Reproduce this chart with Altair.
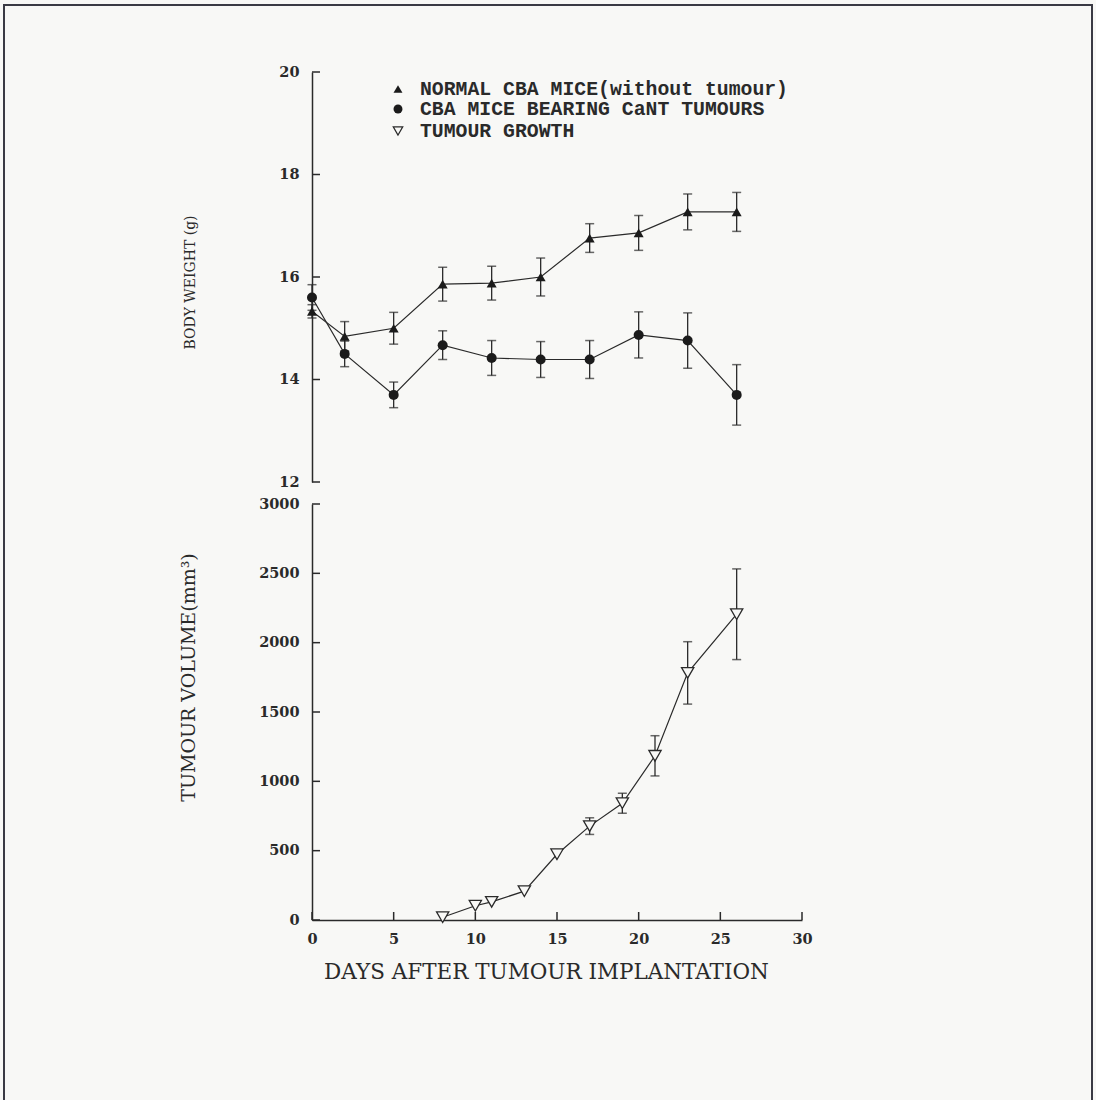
import altair as alt
import pandas as pd

# ---------------- data ----------------
series_labels = ["NORMAL CBA MICE(without tumour)", "CBA MICE BEARING CaNT TUMOURS", "TUMOUR GROWTH"]

weight_days = [0, 2, 5, 8, 11, 14, 17, 20, 23, 26]
normal_weight = [15.33, 14.84, 15.00, 15.86, 15.88, 16.00, 16.76, 16.86, 17.27, 17.27]
normal_err = [0.13, 0.29, 0.31, 0.33, 0.33, 0.37, 0.28, 0.34, 0.35, 0.38]
bearing_weight = [15.60, 14.50, 13.70, 14.67, 14.42, 14.39, 14.39, 14.87, 14.76, 13.70]
bearing_err = [0.25, 0.25, 0.25, 0.28, 0.34, 0.35, 0.37, 0.45, 0.54, 0.59]

tumour_days = [8, 10, 11, 13, 15, 17, 19, 21, 23, 26]
tumour_volume = [20, 103, 131, 208, 474, 677, 842, 1184, 1782, 2205]
tumour_err = [0, 0, 0, 0, 0, 60, 72, 145, 225, 327]

weight_ticks = [12, 14, 16, 18, 20]
volume_ticks = [0, 500, 1000, 1500, 2000, 2500, 3000]
day_ticks = [0, 5, 10, 15, 20, 25, 30]

# ---------------- styling ----------------
INK = "#2a2a2a"
BG = "#f8f8f6"
SERIF = "DejaVu Serif"
MONO = "Liberation Mono"
W = 490
H_TOP = 410
H_BOT = 416

weight_df = pd.DataFrame({
    "series": [series_labels[0]] * len(weight_days) + [series_labels[1]] * len(weight_days),
    "day": weight_days + weight_days,
    "value": normal_weight + bearing_weight,
    "err": normal_err + bearing_err,
})
tumour_df = pd.DataFrame({"day": tumour_days, "value": tumour_volume, "err": tumour_err})

x_scale = alt.Scale(domain=[0, 30], nice=False, zero=False)
y_top_scale = alt.Scale(domain=[12, 20], nice=False, zero=False)
y_bot_scale = alt.Scale(domain=[0, 3000], nice=False)

axis_common = dict(
    labelFont=SERIF, labelFontWeight="bold", labelFontSize=14.5, labelColor=INK,
    domain=True, domainColor=INK, domainWidth=1.5, ticks=False, grid=False,
    titleFont=SERIF, titleFontWeight="normal", titleColor=INK, labelFlush=False,
    format="d",
)

top_y_axis = alt.Axis(
    values=weight_ticks, title="BODY WEIGHT (g)", titleFontSize=14,
    titleX=-122, titleY=210, titleAngle=-90, titleAlign="center", titleBaseline="middle",
    labelPadding=13, **axis_common)
bot_y_axis = alt.Axis(
    values=volume_ticks, title="TUMOUR VOLUME(mm³)", titleFontSize=19,
    titleX=-124, titleY=173, titleAngle=-90, titleAlign="center", titleBaseline="middle",
    labelPadding=13, **axis_common)
bot_x_axis = alt.Axis(
    values=day_ticks, title="DAYS AFTER TUMOUR IMPLANTATION", titleFontSize=21.5,
    titleX=234, titleY=52, titleAngle=0, titleAlign="center", titleBaseline="middle",
    labelPadding=12, labelBaseline="top", **axis_common)


def x_top(field="day"):
    return alt.X(f"{field}:Q", scale=x_scale, axis=None)


def y_top(field):
    return alt.Y(f"{field}:Q", scale=y_top_scale, axis=top_y_axis)


def x_bot(field="day"):
    return alt.X(f"{field}:Q", scale=x_scale, axis=bot_x_axis)


def y_bot(field):
    return alt.Y(f"{field}:Q", scale=y_bot_scale, axis=bot_y_axis)


# ---------------- top panel ----------------
wbase = alt.Chart(weight_df)

frame = alt.Chart(pd.DataFrame({"f": [0]})).mark_rect(
    fill="transparent", stroke="#3a3a44", strokeWidth=2
).encode(x=alt.value(-308), x2=alt.value(780), y=alt.value(-67), y2=alt.value(1060))

w_lines = wbase.mark_line(color=INK, strokeWidth=1.2).encode(
    x=x_top(), y=y_top("value"), detail="series:N")
w_calc = wbase.transform_calculate(lo="datum.value - datum.err", hi="datum.value + datum.err")
w_rules = w_calc.mark_rule(color=INK, strokeWidth=1.3).encode(x=x_top(), y=y_top("lo"), y2="hi:Q")
w_cap_lo = w_calc.mark_tick(color=INK, orient="horizontal", size=9, thickness=1.5).encode(
    x=x_top(), y=y_top("lo"))
w_cap_hi = w_calc.mark_tick(color=INK, orient="horizontal", size=9, thickness=1.5).encode(
    x=x_top(), y=y_top("hi"))
w_points = wbase.mark_point(filled=True, color="#1b1b1b", opacity=1, size=100).encode(
    x=x_top(), y=y_top("value"),
    shape=alt.Shape("series:N", scale=alt.Scale(domain=series_labels[:2], range=["triangle-up", "circle"]), legend=None),
)
w_ticks = alt.Chart(pd.DataFrame({"value": weight_ticks})).mark_rule(color=INK, strokeWidth=1.5).encode(
    y=y_top("value"), x=alt.value(0), x2=alt.value(8))

legend_shapes = ["triangle-up", "circle", "triangle-down"]
legend_filled = [True, True, False]
legend_rows_y = [17, 37, 59]
legend_layers = []
for lab, shp, fl, yy in zip(series_labels, legend_shapes, legend_filled, legend_rows_y):
    ldf = alt.Chart(pd.DataFrame({"label": [lab]}))
    if fl:
        mk = ldf.mark_point(shape=shp, filled=True, color="#1b1b1b", opacity=1, size=80)
    else:
        mk = ldf.mark_point(shape=shp, filled=False, fill=BG, stroke=INK, strokeWidth=1.2, opacity=1, size=90)
    legend_layers.append(mk.encode(x=alt.value(86), y=alt.value(yy)))
    legend_layers.append(
        ldf.mark_text(font=MONO, fontWeight="bold", fontSize=19.8, color=INK, align="left", baseline="middle")
        .encode(text="label:N", x=alt.value(108), y=alt.value(yy))
    )

top = alt.layer(w_lines, w_rules, w_cap_lo, w_cap_hi, w_points, w_ticks, frame, *legend_layers).properties(
    width=W, height=H_TOP)

# ---------------- bottom panel ----------------
tbase = alt.Chart(tumour_df)

t_lines = tbase.mark_line(color=INK, strokeWidth=1.2).encode(x=x_bot(), y=y_bot("value"))
t_calc = tbase.transform_filter("datum.err > 0").transform_calculate(
    lo="datum.value - datum.err", hi="datum.value + datum.err")
t_rules = t_calc.mark_rule(color=INK, strokeWidth=1.3).encode(x=x_bot(), y=y_bot("lo"), y2="hi:Q")
t_cap_lo = t_calc.mark_tick(color=INK, orient="horizontal", size=9, thickness=1.5).encode(
    x=x_bot(), y=y_bot("lo"))
t_cap_hi = t_calc.mark_tick(color=INK, orient="horizontal", size=9, thickness=1.5).encode(
    x=x_bot(), y=y_bot("hi"))
t_points = tbase.mark_point(shape="triangle-down", filled=False, fill=BG, stroke=INK, strokeWidth=1.3,
                            opacity=1, size=150).encode(x=x_bot(), y=y_bot("value"))
t_yticks = alt.Chart(pd.DataFrame({"value": volume_ticks})).mark_rule(color=INK, strokeWidth=1.5).encode(
    y=y_bot("value"), x=alt.value(0), x2=alt.value(8))
t_xticks = alt.Chart(pd.DataFrame({"day": day_ticks})).mark_rule(color=INK, strokeWidth=1.5).encode(
    x=x_bot("day"), y=alt.value(H_BOT), y2=alt.value(H_BOT - 8))

bottom = alt.layer(t_lines, t_rules, t_cap_lo, t_cap_hi, t_points, t_yticks, t_xticks).properties(
    width=W, height=H_BOT)

chart = alt.vconcat(top, bottom, spacing=22, bounds="flush").properties(
    padding={"left": 3, "top": 4, "right": 3, "bottom": 0},
    background=BG,
).configure_view(stroke=None)

chart.save("out.html", embed_options={"renderer": "svg", "actions": False})
